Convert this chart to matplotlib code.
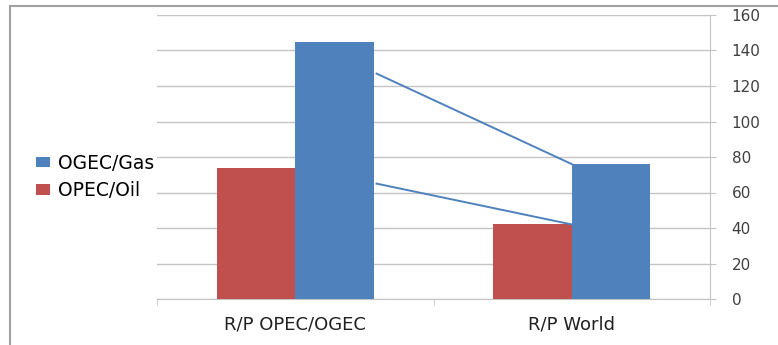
import matplotlib
matplotlib.use("Agg")
import matplotlib.pyplot as plt
import numpy as np
from matplotlib.patches import Rectangle

# Data
categories = ["R/P OPEC/OGEC", "R/P World"]
oil_values = [74, 42]      # OPEC/Oil
gas_values = [145, 76]     # OGEC/Gas
# Connector lines drawn between the two groups (start value, end value)
gas_line = [127, 76]
oil_line = [65, 42]
y_ticks = [0, 20, 40, 60, 80, 100, 120, 140, 160]

red = "#C0504D"
blue = "#4F81BD"
grid_col = "#C4C4C4"

fig = plt.figure(figsize=(7.78, 3.45), dpi=100)
ax = fig.add_axes([157 / 778, 1 - 299 / 345, (710 - 157) / 778, (299 - 15) / 345])

x = np.arange(len(categories))
w = 0.284

ax.bar(x - w / 2, oil_values, width=w, color=red, label="OPEC/Oil", zorder=3)
ax.bar(x + w / 2, gas_values, width=w, color=blue, label="OGEC/Gas", zorder=3)

# lines from right of first group to the second group
lx = [x[0] + w + 0.01, x[1]]
ax.plot(lx, gas_line, color=blue, lw=1.4, zorder=4)
ax.plot(lx, oil_line, color=blue, lw=1.4, zorder=4)

ax.set_xlim(-0.5, len(categories) - 0.5)
ax.set_ylim(0, 160)

# y axis on the right
ax.yaxis.tick_right()
ax.set_yticks(y_ticks)
ax.set_yticklabels([str(v) for v in y_ticks], fontsize=11, color="#404040", ha="left")
ax.tick_params(axis="y", length=4.5, color=grid_col, pad=11)
ax.yaxis.grid(True, color=grid_col, lw=1.0, zorder=0)

ax.set_xticks(x)
ax.set_xticklabels(categories, fontsize=13, color="#202020")
ax.tick_params(axis="x", which="major", length=0, pad=12)
ax.set_xticks(np.arange(-0.5, len(categories)), minor=True)
ax.tick_params(axis="x", which="minor", length=4.5, color=grid_col)

for s in ["top", "left"]:
    ax.spines[s].set_visible(False)
ax.spines["right"].set_color(grid_col)
ax.spines["bottom"].set_color(grid_col)

handles, labels = ax.get_legend_handles_labels()
fig.legend(handles[::-1], labels[::-1], loc="center left",
           bbox_to_anchor=(36 / 778, 1 - 177 / 345), frameon=False,
           fontsize=13.5, handlelength=0.75, handleheight=0.5,
           handletextpad=0.4, labelspacing=0.45, borderpad=0, borderaxespad=0)

# outer frame (only left and top edges visible in the crop)
fig.add_artist(Rectangle((10 / 778, -0.1), 1.2, 1.1 - 6 / 345, transform=fig.transFigure,
                         fill=False, edgecolor="#A0A0A0", lw=1.5, clip_on=False))

fig.savefig("out.png", dpi=100)
